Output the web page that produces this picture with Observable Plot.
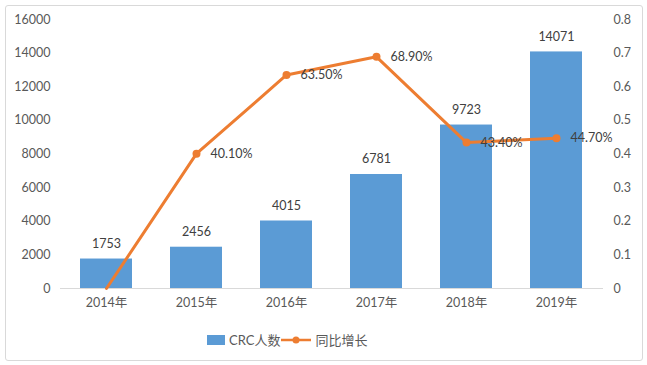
<!DOCTYPE html>
<html><head><meta charset="utf-8">
<script src="https://cdn.jsdelivr.net/npm/d3@7"></script>
<script src="https://cdn.jsdelivr.net/npm/@observablehq/plot@0.6"></script>
<style>
body{margin:0;background:#fff;font-family:Lato,"Noto Sans CJK SC",sans-serif;}
#frame{position:absolute;left:5px;top:5px;width:636px;height:354px;border:1px solid #d9d9d9;border-radius:3px;}
#chart{position:absolute;left:0;top:0;}
#legend{position:absolute;left:207px;top:330px;display:flex;align-items:center;font-size:13px;color:#595959;font-family:Lato,"Noto Sans CJK SC",sans-serif;}
</style></head>
<body>
<div id="frame"></div>
<div id="chart"></div>
<div id="legend">
  <svg width="19" height="12"><rect x="0" y="1" width="18" height="10" fill="#5B9BD5"/></svg>
  <span style="margin-left:3px">CRC人数</span>
  <svg width="32" height="12"><line x1="1" y1="6" x2="31" y2="6" stroke="#ED7D31" stroke-width="2.5"/><circle cx="16" cy="6" r="3.5" fill="#ED7D31"/></svg>
  <span style="margin-left:3px">同比增长</span>
</div>
<script>
const years = ["2014年","2015年","2016年","2017年","2018年","2019年"];
const crc = [1753, 2456, 4015, 6781, 9723, 14071];
const growth = [0, 0.401, 0.635, 0.689, 0.434, 0.447];
const growthLabels = ["", "40.10%", "63.50%", "68.90%", "43.40%", "44.70%"];
const leftTicks = [0,2000,4000,6000,8000,10000,12000,14000,16000];

const k = 20000; // right axis 0.8 <-> 16000
const bars = years.map((y,i)=>({year:y, value:crc[i]}));
const pts = years.map((y,i)=>({year:y, g:growth[i]*k, label:growthLabels[i]}));
const shown = pts.filter(d=>d.label!=="");

const font = 'Lato,"Noto Sans CJK SC",sans-serif';
const plot = Plot.plot({
  width: 647, height: 322,
  marginLeft: 60, marginRight: 44, marginTop: 19, marginBottom: 34,
  style: {fontFamily: font, fontSize: "12.5px", color: "#595959", background: "transparent"},
  x: {domain: years, paddingInner: 0.42, paddingOuter: 0.21, label: null},
  y: {domain: [0,16000], label: null},
  marks: [
    Plot.axisY({ticks: leftTicks, tickSize: 0, tickPadding: 10, label: null, anchor: "left", tickFormat: d3.format("d")}),
    Plot.axisY({ticks: leftTicks, tickSize: 0, tickPadding: 10, label: null, anchor: "right", textAnchor: "start", tickFormat: d => String(+(d/k).toFixed(1))}),
    Plot.axisX({tickSize: 0, tickPadding: 10, label: null}),
    Plot.barY(bars, {x: "year", y: "value", fill: "#5B9BD5"}),
    Plot.ruleY([0], {stroke: "#d9d9d9", strokeWidth: 1}),
    Plot.text(bars, {x: "year", y: "value", text: d => String(d.value), dy: -15, fill: "#404040", fontSize: 12.5}),
    Plot.line(pts, {x: "year", y: "g", stroke: "#ED7D31", strokeWidth: 3, strokeLinejoin: "round"}),
    Plot.dot(shown, {x: "year", y: "g", r: 4, fill: "#ED7D31", stroke: "none"}),
    Plot.text(shown, {x: "year", y: "g", text: "label", dx: 14, textAnchor: "start", fill: "#404040", fontSize: 12.5})
  ]
});
document.getElementById("chart").appendChild(plot);
</script>
</body></html>
